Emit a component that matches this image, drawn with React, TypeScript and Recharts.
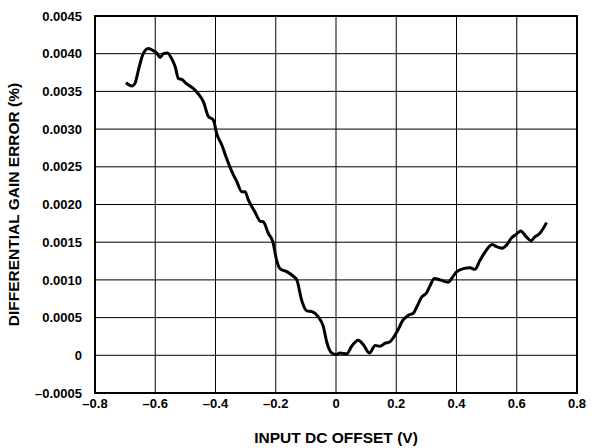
import {
  LineChart,
  Line,
  XAxis,
  YAxis,
  CartesianGrid,
  ReferenceArea,
} from "recharts";

// input DC offset (V)
const offsetV = [
  -0.697, -0.678, -0.667, -0.656, -0.64, -0.623, -0.606, -0.595, -0.584, -0.573,
  -0.56, -0.545, -0.534, -0.523, -0.512, -0.496, -0.474, -0.454, -0.44, -0.424,
  -0.407, -0.396, -0.379, -0.363, -0.346, -0.329, -0.313, -0.302, -0.291, -0.269,
  -0.252, -0.241, -0.225, -0.21, -0.197, -0.186, -0.164, -0.142, -0.13, -0.114,
  -0.097, -0.08, -0.059, -0.042, -0.031, -0.014, 0.001, 0.013, 0.036, 0.052,
  0.074, 0.091, 0.111, 0.13, 0.146, 0.163, 0.179, 0.202, 0.223, 0.24,
  0.257, 0.268, 0.284, 0.301, 0.312, 0.326, 0.345, 0.373, 0.384, 0.401,
  0.423, 0.445, 0.461, 0.478, 0.495, 0.519, 0.533, 0.552, 0.566, 0.583,
  0.597, 0.613, 0.632, 0.647, 0.66, 0.677, 0.699,
];

// differential gain error (%)
const gainError = [
  0.003615, 0.00357, 0.00361, 0.00378, 0.004, 0.00407, 0.00404, 0.00401, 0.00395, 0.004,
  0.00401, 0.00393, 0.00383, 0.00367, 0.00366, 0.0036, 0.00354, 0.00345, 0.00336, 0.00317,
  0.00312, 0.00294, 0.00279, 0.00261, 0.00244, 0.0023, 0.00217, 0.00217, 0.00206, 0.0019,
  0.00178, 0.00177, 0.00162, 0.00151, 0.00126, 0.00115, 0.00111, 0.00105, 0.001, 0.00073,
  0.00059, 0.00058, 0.00051, 0.00038, 0.00018, 0.00003, 0.00001, 0.00003, 0.00002, 0.00012,
  0.0002, 0.00014, 0.00003, 0.00013, 0.00012, 0.00016, 0.00018, 0.00031, 0.00047, 0.00053,
  0.00056, 0.00064, 0.00077, 0.00083, 0.00092, 0.00102, 0.001, 0.00097, 0.00102, 0.00111,
  0.00115, 0.00116, 0.00114, 0.00126, 0.00137, 0.00147, 0.00144, 0.00142, 0.00146, 0.00156,
  0.0016, 0.00165, 0.00157, 0.00152, 0.00157, 0.00162, 0.00176,
];

const xTicks = [-0.8, -0.6, -0.4, -0.2, 0, 0.2, 0.4, 0.6, 0.8];
const yTicks = [
  -0.0005, 0, 0.0005, 0.001, 0.0015, 0.002, 0.0025, 0.003, 0.0035, 0.004, 0.0045,
];

const FONT = "'Liberation Sans', Arial, Helvetica, sans-serif";

const fmtX = (v: number) => (v === 0 ? "0" : v.toFixed(1).replace("-", "\u2013"));
const fmtY = (v: number) => (v === 0 ? "0" : v.toFixed(4).replace("-", "\u2013"));

const tickStyle = { fontFamily: FONT, fontSize: 13, fontWeight: 700, fill: "#000" };
const titleStyle = { fontFamily: FONT, fontSize: 15.5, fontWeight: 700, fill: "#000" };

const YTitle = ({ viewBox }: any) => {
  const cx = viewBox.x + 13;
  const cy = viewBox.y + viewBox.height / 2;
  return (
    <text
      x={cx}
      y={cy}
      transform={`rotate(-90, ${cx}, ${cy})`}
      textAnchor="middle"
      dominantBaseline="central"
      style={titleStyle}
    >
      DIFFERENTIAL GAIN ERROR (%)
    </text>
  );
};

export default function App() {
  const data = offsetV.map((x, i) => ({ x, y: gainError[i] }));

  return (
    <div style={{ position: "absolute", left: 0, top: 0, width: 592, height: 448, background: "#fff" }}>
      <LineChart
        width={592}
        height={448}
        data={data}
        margin={{ top: 16, right: 15, bottom: 0, left: 0 }}
      >
        <CartesianGrid stroke="#000" strokeWidth={1} />
        <XAxis
          dataKey="x"
          type="number"
          domain={[-0.8, 0.8]}
          ticks={xTicks}
          tickFormatter={fmtX}
          tick={tickStyle}
          tickLine={false}
          axisLine={false}
          tickSize={0}
          tickMargin={6}
          height={55}
          label={{
            value: "INPUT DC OFFSET (V)",
            position: "insideBottom",
            offset: 5,
            style: titleStyle,
          }}
          allowDataOverflow
        />
        <YAxis
          type="number"
          domain={[-0.0005, 0.0045]}
          ticks={yTicks}
          tickFormatter={fmtY}
          tick={tickStyle}
          tickLine={false}
          axisLine={false}
          tickSize={0}
          tickMargin={13}
          width={95}
          interval={0}
          label={{ content: YTitle }}
          allowDataOverflow
        />
        <ReferenceArea
          x1={-0.8}
          x2={0.8}
          y1={-0.0005}
          y2={0.0045}
          fill="none"
          stroke="#000"
          strokeWidth={2}
          ifOverflow="visible"
        />
        <Line
          type="monotone"
          dataKey="y"
          stroke="#000"
          strokeWidth={3}
          dot={false}
          isAnimationActive={false}
        />
      </LineChart>
    </div>
  );
}
